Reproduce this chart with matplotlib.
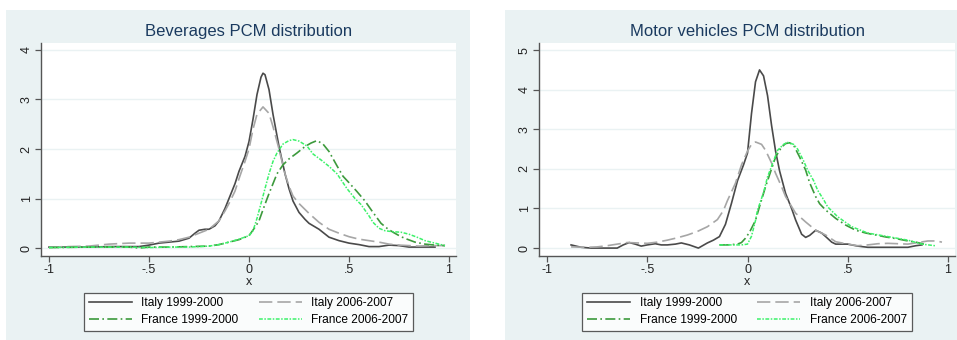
import matplotlib
matplotlib.use("Agg")
import matplotlib.pyplot as plt
from matplotlib.patches import Rectangle

plt.rcParams["font.family"] = ["Liberation Sans", "DejaVu Sans"]

# ---------------- data ----------------
titles = ["Beverages PCM distribution", "Motor vehicles PCM distribution"]
series_labels = ["Italy 1999-2000", "Italy 2006-2007", "France 1999-2000", "France 2006-2007"]
x_ticks = [-1, -0.5, 0, 0.5, 1]
x_ticklabels = ["-1", "-.5", "0", ".5", "1"]
y_ticks_left = [0, 1, 2, 3, 4]
y_ticks_right = [0, 1, 2, 3, 4, 5]

# Beverages
bev_it99_x = [-1, -0.9, -0.8, -0.7, -0.6, -0.55, -0.5, -0.45, -0.4, -0.35, -0.3, -0.27, -0.25, -0.22, -0.2,
              -0.17, -0.15, -0.12, -0.1, -0.07, -0.05, -0.02, 0, 0.02, 0.04, 0.06, 0.07, 0.08, 0.1, 0.12, 0.15,
              0.18, 0.2, 0.22, 0.25, 0.28, 0.3, 0.35, 0.4, 0.45, 0.5, 0.55, 0.6, 0.65, 0.7, 0.75, 0.8, 0.85, 0.93]
bev_it99_y = [0.02, 0.02, 0.02, 0.03, 0.03, 0.03, 0.06, 0.1, 0.12, 0.14, 0.2, 0.3, 0.36, 0.38, 0.38,
              0.45, 0.55, 0.8, 1.0, 1.3, 1.55, 1.85, 2.15, 2.6, 3.1, 3.45, 3.53, 3.5, 3.2, 2.7, 2.05,
              1.5, 1.2, 0.95, 0.72, 0.58, 0.5, 0.38, 0.22, 0.15, 0.1, 0.07, 0.03, 0.03, 0.06, 0.05, 0.02, 0.02, 0.02]

bev_it06_x = [-1, -0.9, -0.8, -0.75, -0.7, -0.6, -0.5, -0.45, -0.4, -0.35, -0.3, -0.25, -0.2, -0.15, -0.12,
              -0.1, -0.07, -0.05, -0.02, 0, 0.02, 0.04, 0.07, 0.1, 0.12, 0.15, 0.18, 0.2, 0.22, 0.25, 0.28,
              0.3, 0.35, 0.4, 0.45, 0.5, 0.55, 0.6, 0.65, 0.7, 0.75, 0.8, 0.85, 0.9, 0.98]
bev_it06_y = [0.02, 0.03, 0.04, 0.06, 0.08, 0.1, 0.1, 0.12, 0.14, 0.17, 0.22, 0.3, 0.38, 0.55, 0.75,
              0.9, 1.15, 1.4, 1.75, 2.0, 2.4, 2.7, 2.85, 2.72, 2.45, 2.0, 1.5, 1.25, 1.05, 0.9, 0.78,
              0.7, 0.52, 0.38, 0.3, 0.23, 0.18, 0.15, 0.12, 0.08, 0.06, 0.05, 0.04, 0.05, 0.05]

bev_fr99_x = [-1, -0.8, -0.6, -0.55, -0.5, -0.4, -0.3, -0.2, -0.15, -0.1, -0.05, 0, 0.03, 0.05, 0.075,
              0.1, 0.12, 0.14, 0.17, 0.2, 0.24, 0.28, 0.31, 0.34, 0.37, 0.4, 0.44, 0.47, 0.5, 0.54, 0.58,
              0.62, 0.66, 0.69, 0.72, 0.76, 0.79, 0.83, 0.88, 0.93, 0.98]
bev_fr99_y = [0.01, 0.02, 0.02, 0.0, 0.02, 0.02, 0.03, 0.04, 0.07, 0.12, 0.17, 0.25, 0.42, 0.55, 0.83,
              1.1, 1.3, 1.5, 1.68, 1.8, 1.92, 2.05, 2.12, 2.17, 2.1, 1.95, 1.66, 1.45, 1.32, 1.14, 0.95,
              0.72, 0.5, 0.4, 0.32, 0.23, 0.18, 0.12, 0.08, 0.06, 0.05]

bev_fr06_x = [-1, -0.8, -0.6, -0.5, -0.4, -0.3, -0.2, -0.15, -0.1, -0.05, 0, 0.02, 0.04, 0.06, 0.08,
              0.1, 0.12, 0.14, 0.17, 0.2, 0.22, 0.25, 0.29, 0.32, 0.36, 0.4, 0.44, 0.49, 0.53, 0.56, 0.6,
              0.62, 0.65, 0.68, 0.72, 0.76, 0.8, 0.84, 0.88, 0.93, 0.98]
bev_fr06_y = [0.01, 0.02, 0.02, 0.01, 0.02, 0.02, 0.04, 0.07, 0.12, 0.18, 0.25, 0.35, 0.6, 0.9, 1.2,
              1.5, 1.75, 1.92, 2.1, 2.17, 2.19, 2.16, 2.06, 1.9, 1.78, 1.65, 1.5, 1.2, 1.0, 0.88, 0.65,
              0.52, 0.4, 0.35, 0.33, 0.32, 0.28, 0.22, 0.15, 0.1, 0.05]

# Motor vehicles
mv_it99_x = [-0.88, -0.83, -0.78, -0.7, -0.65, -0.62, -0.59, -0.56, -0.53, -0.5, -0.46, -0.43, -0.4, -0.36,
             -0.33, -0.29, -0.245, -0.2, -0.17, -0.14, -0.11, -0.08, -0.05, -0.02, 0, 0.02, 0.04, 0.06, 0.08,
             0.1, 0.12, 0.14, 0.16, 0.19, 0.22, 0.24, 0.27, 0.29, 0.31, 0.34, 0.37, 0.39, 0.42, 0.44, 0.5,
             0.55, 0.6, 0.7, 0.8, 0.84, 0.87]
mv_it99_y = [0.08, 0.02, 0.0, 0.0, 0.0, 0.08, 0.14, 0.1, 0.05, 0.08, 0.11, 0.08, 0.08, 0.1,
             0.13, 0.08, 0.0, 0.13, 0.2, 0.29, 0.6, 1.13, 1.7, 2.1, 2.4, 3.4, 4.2, 4.5, 4.35,
             3.85, 3.1, 2.45, 1.95, 1.38, 1.0, 0.71, 0.35, 0.27, 0.32, 0.45, 0.38, 0.29, 0.15, 0.1, 0.1,
             0.05, 0.02, 0.02, 0.02, 0.06, 0.08]

mv_it06_x = [-0.88, -0.8, -0.75, -0.7, -0.65, -0.6, -0.55, -0.5, -0.45, -0.4, -0.35, -0.3, -0.25, -0.2,
             -0.15, -0.12, -0.1, -0.06, -0.03, 0, 0.02, 0.04, 0.07, 0.09, 0.12, 0.14, 0.17, 0.19, 0.22,
             0.24, 0.27, 0.29, 0.34, 0.39, 0.44, 0.5, 0.55, 0.6, 0.65, 0.7, 0.75, 0.8, 0.85, 0.9, 0.94, 0.97]
mv_it06_y = [0.03, 0.02, 0.03, 0.06, 0.1, 0.14, 0.13, 0.12, 0.15, 0.2, 0.26, 0.33, 0.42, 0.54,
             0.72, 0.95, 1.2, 1.64, 2.1, 2.45, 2.62, 2.68, 2.62, 2.47, 2.15, 1.89, 1.55, 1.3, 1.05,
             0.88, 0.75, 0.66, 0.45, 0.33, 0.16, 0.1, 0.06, 0.08, 0.11, 0.12, 0.11, 0.1, 0.14, 0.18, 0.18, 0.15]

mv_fr99_x = [-0.14, -0.1, -0.05, -0.03, -0.01, 0.01, 0.04, 0.06, 0.09, 0.12, 0.14, 0.17, 0.19, 0.21, 0.23,
             0.26, 0.29, 0.31, 0.34, 0.36, 0.39, 0.44, 0.49, 0.54, 0.59, 0.64, 0.69, 0.74, 0.79, 0.84, 0.88]
mv_fr99_y = [0.08, 0.08, 0.1, 0.14, 0.25, 0.4, 0.7, 1.05, 1.55, 2.0, 2.3, 2.55, 2.64, 2.66, 2.6,
             2.3, 1.97, 1.65, 1.3, 1.12, 0.96, 0.75, 0.58, 0.45, 0.38, 0.33, 0.28, 0.24, 0.19, 0.15, 0.1]

mv_fr06_x = [-0.14, -0.08, -0.03, 0.0, 0.02, 0.04, 0.05, 0.08, 0.1, 0.13, 0.15, 0.18, 0.2, 0.23, 0.25,
             0.28, 0.3, 0.33, 0.35, 0.38, 0.4, 0.45, 0.52, 0.6, 0.7, 0.8, 0.87, 0.935]
mv_fr06_y = [0.08, 0.08, 0.08, 0.1, 0.3, 0.7, 0.96, 1.4, 1.8, 2.2, 2.47, 2.62, 2.67, 2.62, 2.5,
             2.2, 1.97, 1.7, 1.46, 1.22, 1.04, 0.79, 0.54, 0.38, 0.29, 0.2, 0.1, 0.06]

panels = [
    [(bev_it99_x, bev_it99_y), (bev_it06_x, bev_it06_y), (bev_fr99_x, bev_fr99_y), (bev_fr06_x, bev_fr06_y)],
    [(mv_it99_x, mv_it99_y), (mv_it06_x, mv_it06_y), (mv_fr99_x, mv_fr99_y), (mv_fr06_x, mv_fr06_y)],
]

# ---------------- style ----------------
BG = "#EAF2F3"
TITLE_C = "#1A3A5F"
styles = [
    dict(color="#4a4a4a", linestyle="-", lw=1.2),
    dict(color="#a6a6a6", dashes=(8, 3), lw=1.2),
    dict(color="#3c9a3c", dashes=(6, 2, 1, 2), lw=1.2),
    dict(color="#3cf26a", dashes=(2.5, 1, 1, 1), lw=1.1),
]

W, H = 957, 340
fig = plt.figure(figsize=(W / 100, H / 100), dpi=100)
fig.patch.set_facecolor("white")

bg_boxes = [(6, 10, 470, 340), (505, 10, 957, 340)]
ax_boxes = [(41, 43, 456, 256), (539, 43, 955, 256)]
ylims = [(-0.16, 4.14), (-0.2, 5.18)]
yticks_all = [y_ticks_left, y_ticks_right]

def fx(px):
    return px / W

def fy(py):
    return 1 - py / H

for i in range(2):
    x0, y0, x1, y1 = bg_boxes[i]
    fig.patches.append(Rectangle((fx(x0), fy(y1)), fx(x1) - fx(x0), fy(y0) - fy(y1),
                                 transform=fig.transFigure, facecolor=BG, edgecolor="none", zorder=-10))
    a0, b0, a1, b1 = ax_boxes[i]
    ax = fig.add_axes([fx(a0), fy(b1), fx(a1) - fx(a0), fy(b0) - fy(b1)])
    ax.set_zorder(5)
    ax.set_facecolor("white")
    lines = []
    for (xs, ys), lab, st in zip(panels[i], series_labels, styles):
        ln, = ax.plot(xs, ys, label=lab, **st)
        lines.append(ln)
    ax.set_xlim(-1.04, 1.035)
    ax.set_ylim(*ylims[i])
    ax.set_xticks(x_ticks)
    ax.set_xticklabels(x_ticklabels)
    ax.set_yticks(yticks_all[i])
    ax.set_yticklabels([str(v) for v in yticks_all[i]], rotation=90, va="center")
    ax.grid(axis="y", color=BG, lw=1.0)
    ax.set_axisbelow(True)
    for s in ["top", "right"]:
        ax.spines[s].set_visible(False)
    for s in ["left", "bottom"]:
        ax.spines[s].set_color("#555555")
        ax.spines[s].set_linewidth(1.0)
    ax.tick_params(axis="both", direction="out", length=4, width=0.9, color="#555555",
                   labelsize=9, labelcolor="#222222", pad=2)
    ax.set_xlabel("x", fontsize=9, color="#222222", labelpad=0)
    ax.set_title(titles[i], fontsize=12, color=TITLE_C, pad=5)
    order = [0, 2, 1, 3]  # row-major filling
    leg = ax.legend([lines[k] for k in order], [series_labels[k] for k in order],
                    loc="upper center", bbox_to_anchor=(0.5, -0.172), ncol=2, fontsize=8.6,
                    frameon=True, fancybox=False, edgecolor="#333333", handlelength=3.6,
                    columnspacing=1.7, borderpad=0.4, labelspacing=0.38, handletextpad=0.8,
                    borderaxespad=0)
    leg.get_frame().set_linewidth(0.9)

fig.savefig("out.png", dpi=100, facecolor="white")
